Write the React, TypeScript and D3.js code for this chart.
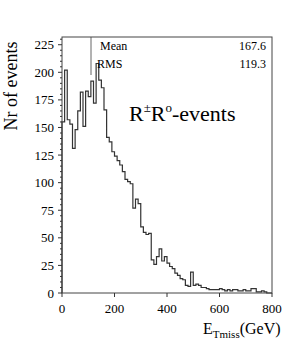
import React from "react";
import * as d3 from "d3";

// Histogram of missing transverse energy, 10 GeV bins from 0 to 800 GeV
const binWidth = 10;
const counts = [
  155, 202, 157, 153, 131, 148, 165, 182, 151, 183,
  178, 192, 172, 208, 193, 186, 166, 141, 137, 128,
  124, 120, 116, 110, 103, 101, 99, 77, 85, 81,
  60, 55, 53, 54, 30, 26, 33, 40, 29, 33,
  27, 24, 22, 18, 16, 13, 12, 7, 6, 19,
  7, 8, 7, 5, 5, 4, 3, 3, 3, 3,
  4, 3, 2, 3, 2, 3, 3, 2, 2, 3,
  2, 2, 4, 4, 1, 1, 2, 1, 0, 0,
];
const xTicks = [0, 200, 400, 600, 800];
const yTicks = [0, 25, 50, 75, 100, 125, 150, 175, 200, 225];
const yMinorStep = 5;
const statsLabels = ["Mean", "RMS"];
const statsValues = ["167.6", "119.3"];

const W = 305;
const H = 354;
const left = 62;
const right = 272;
const top = 37;
const bottom = 293;
const font = "'Liberation Serif', 'Times New Roman', serif";

export default function App() {
  const x = d3.scaleLinear().domain([0, 800]).range([left, right]);
  const y = d3.scaleLinear().domain([0, 232]).range([bottom, top]);

  const pts: [number, number][] = [[0, 0]];
  counts.forEach((c, i) => pts.push([i * binWidth, c]));
  pts.push([counts.length * binWidth, counts[counts.length - 1]]);
  const line = d3
    .line<[number, number]>()
    .x((d) => x(d[0]))
    .y((d) => y(d[1]))
    .curve(d3.curveStepAfter);

  const minor = d3.range(0, 232, yMinorStep).filter((v) => v % 25 !== 0);

  return (
    <svg
      width={W}
      height={H}
      style={{ position: "absolute", left: 0, top: 0, background: "#fff" }}
      fontFamily={font}
    >
      <rect x={0} y={0} width={W} height={H} fill="#fff" />
      {/* histogram */}
      <path d={line(pts) || ""} fill="none" stroke="#333" strokeWidth={1.2} />
      {/* stats box edge */}
      <line x1={91} x2={91} y1={top} y2={75} stroke="#666" strokeWidth={1} />
      {/* frame */}
      <rect x={left} y={top} width={right - left} height={bottom - top} fill="none" stroke="#444" strokeWidth={1} />
      {/* y axis ticks */}
      {yTicks.map((t) => (
        <g key={"y" + t}>
          <line x1={left - 4} x2={left} y1={y(t)} y2={y(t)} stroke="#333" />
          <text x={54} y={y(t) + 4.5} fontSize={13} textAnchor="end" fill="#000">
            {t}
          </text>
        </g>
      ))}
      {minor.map((t) => (
        <line key={"ym" + t} x1={left - 2} x2={left} y1={y(t)} y2={y(t)} stroke="#333" />
      ))}
      {/* x axis ticks */}
      {xTicks.map((t) => (
        <g key={"x" + t}>
          <line x1={x(t)} x2={x(t)} y1={bottom} y2={bottom + 4} stroke="#333" />
          <text x={x(t)} y={313} fontSize={13} textAnchor="middle" fill="#000">
            {t}
          </text>
        </g>
      ))}
      {/* y title */}
      <text
        transform={`translate(17,86) rotate(-90)`}
        fontSize={18}
        textAnchor="middle"
        fill="#000"
      >
        Nr of events
      </text>
      {/* x title */}
      <text x={203} y={334} fontSize={16} fill="#000">
        E
        <tspan fontSize={11} dy={4}>Tmiss</tspan>
        <tspan dy={-4}>(GeV)</tspan>
      </text>
      {/* stats */}
      {statsLabels.map((s, i) => (
        <text key={s} x={i === 0 ? 100 : 97} y={50 + i * 18} fontSize={12} fill="#000">
          {s}
        </text>
      ))}
      {statsValues.map((s, i) => (
        <text key={s} x={266} y={50 + i * 18} fontSize={12} textAnchor="end" fill="#000">
          {s}
        </text>
      ))}
      {/* label */}
      <text x={129} y={121} fontSize={22} fill="#000">
        R
        <tspan fontSize={13} dy={-9}>±</tspan>
        <tspan fontSize={22} dy={9}>R</tspan>
        <tspan fontSize={13} dy={-9}>o</tspan>
        <tspan fontSize={22} dy={9}>-events</tspan>
      </text>
    </svg>
  );
}
